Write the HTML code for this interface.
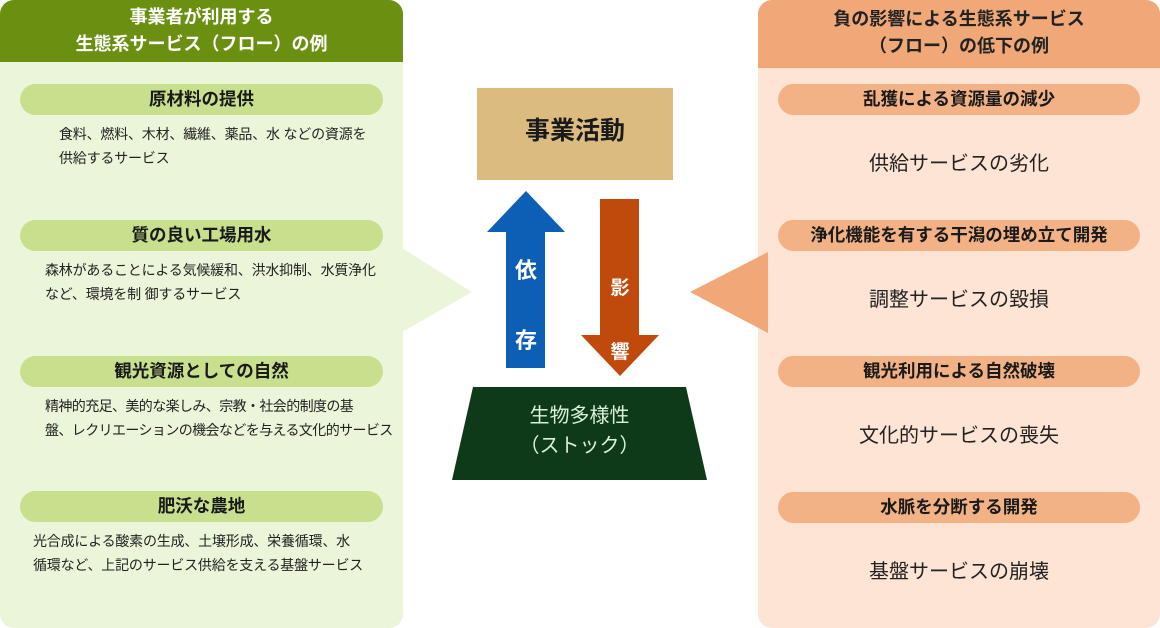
<!DOCTYPE html>
<html><head><meta charset="utf-8"><style>
body{margin:0;width:1160px;height:628px;background:#fff;position:relative;overflow:hidden;font-family:"Liberation Sans","Noto Sans CJK JP",sans-serif}
.a{position:absolute}
.pill{position:absolute;border-radius:16px;text-align:center;font-weight:bold;font-size:17.5px;color:#1a1a1a;line-height:31px;height:31px}
.lp{left:20px;width:363px;background:#c8e08e}
.rp{left:778px;width:362px;background:#f2b285}
.desc{position:absolute;font-size:14px;color:#222;line-height:24px;white-space:nowrap;letter-spacing:-0.2px}
.rt{position:absolute;left:758px;width:402px;text-align:center;font-size:20px;color:#222}
</style></head><body>
<div class="a" style="left:0;top:0;width:403px;height:628px;background:#ebf5d9;border-radius:14px"></div>
<div class="a" style="left:0;top:0;width:403px;height:62px;background:#6b8f10;border-radius:14px 14px 0 0;color:#fff;font-weight:bold;font-size:18px;text-align:center;line-height:27px;padding-top:4px;box-sizing:border-box">事業者が利用する<br>生態系サービス（フロー）の例</div>
<div class="a" style="left:758px;top:0;width:402px;height:628px;background:#fde4d4;border-radius:14px"></div>
<div class="a" style="left:758px;top:0;width:402px;height:68px;background:#f1a878;border-radius:14px 14px 0 0;color:#222;font-weight:bold;font-size:18px;text-align:center;line-height:27px;padding-top:6px;box-sizing:border-box">負の影響による生態系サービス<br>（フロー）の低下の例</div>
<svg class="a" style="left:0;top:0" width="1160" height="628">
<polygon points="402,248 472,292 402,332" fill="#ebf5d9"/>
<polygon points="768,252 690,292 768,333" fill="#f1a878"/>
<rect x="477" y="88" width="196" height="92" fill="#dcbb80"/>
<polygon points="506,368 545,368 545,232 565,232 526,191 487,232 506,232" fill="#0d5fb5"/>
<polygon points="600,199 639,199 639,335 659,335 620,376 581,335 600,335" fill="#c04a0c"/>
<polygon points="473,387 686,387 707,480 452,480" fill="#0f3a1a"/>
</svg>
<div class="a" style="left:477px;top:88px;width:196px;height:92px;line-height:86px;text-align:center;font-weight:bold;font-size:25px;color:#1a1a1a">事業活動</div>
<div class="a" style="left:506px;top:236px;width:40px;text-align:center;color:#fff;font-weight:bold;font-size:22px;line-height:70px">依<br>存</div>
<div class="a" style="left:600px;top:257px;width:40px;text-align:center;color:#fff;font-weight:bold;font-size:19px;line-height:64px">影<br>響</div>
<div class="a" style="left:452px;top:401px;width:255px;text-align:center;color:#d9f0d9;font-size:20px;line-height:30px">生物多様性<br>（ストック）</div>

<div class="pill lp" style="top:84px">原材料の提供</div>
<div class="desc" style="left:59px;top:122px">食料、燃料、木材、繊維、薬品、水 などの資源を<br>供給するサービス</div>
<div class="pill lp" style="top:220px">質の良い工場用水</div>
<div class="desc" style="left:45px;top:258px">森林があることによる気候緩和、洪水抑制、水質浄化<br>など、環境を制 御するサービス</div>
<div class="pill lp" style="top:356px">観光資源としての自然</div>
<div class="desc" style="left:45px;top:394px;letter-spacing:-0.6px">精神的充足、美的な楽しみ、宗教・社会的制度の基<br>盤、レクリエーションの機会などを与える文化的サービス</div>
<div class="pill lp" style="top:491px">肥沃な農地</div>
<div class="desc" style="left:33px;top:529px">光合成による酸素の生成、土壌形成、栄養循環、水<br>循環など、上記のサービス供給を支える基盤サービス</div>

<div class="pill rp" style="top:84px">乱獲による資源量の減少</div>
<div class="rt" style="top:147px">供給サービスの劣化</div>
<div class="pill rp" style="top:220px">浄化機能を有する干潟の埋め立て開発</div>
<div class="rt" style="top:283px">調整サービスの毀損</div>
<div class="pill rp" style="top:356px">観光利用による自然破壊</div>
<div class="rt" style="top:419px">文化的サービスの喪失</div>
<div class="pill rp" style="top:492px">水脈を分断する開発</div>
<div class="rt" style="top:555px">基盤サービスの崩壊</div>
</body></html>
